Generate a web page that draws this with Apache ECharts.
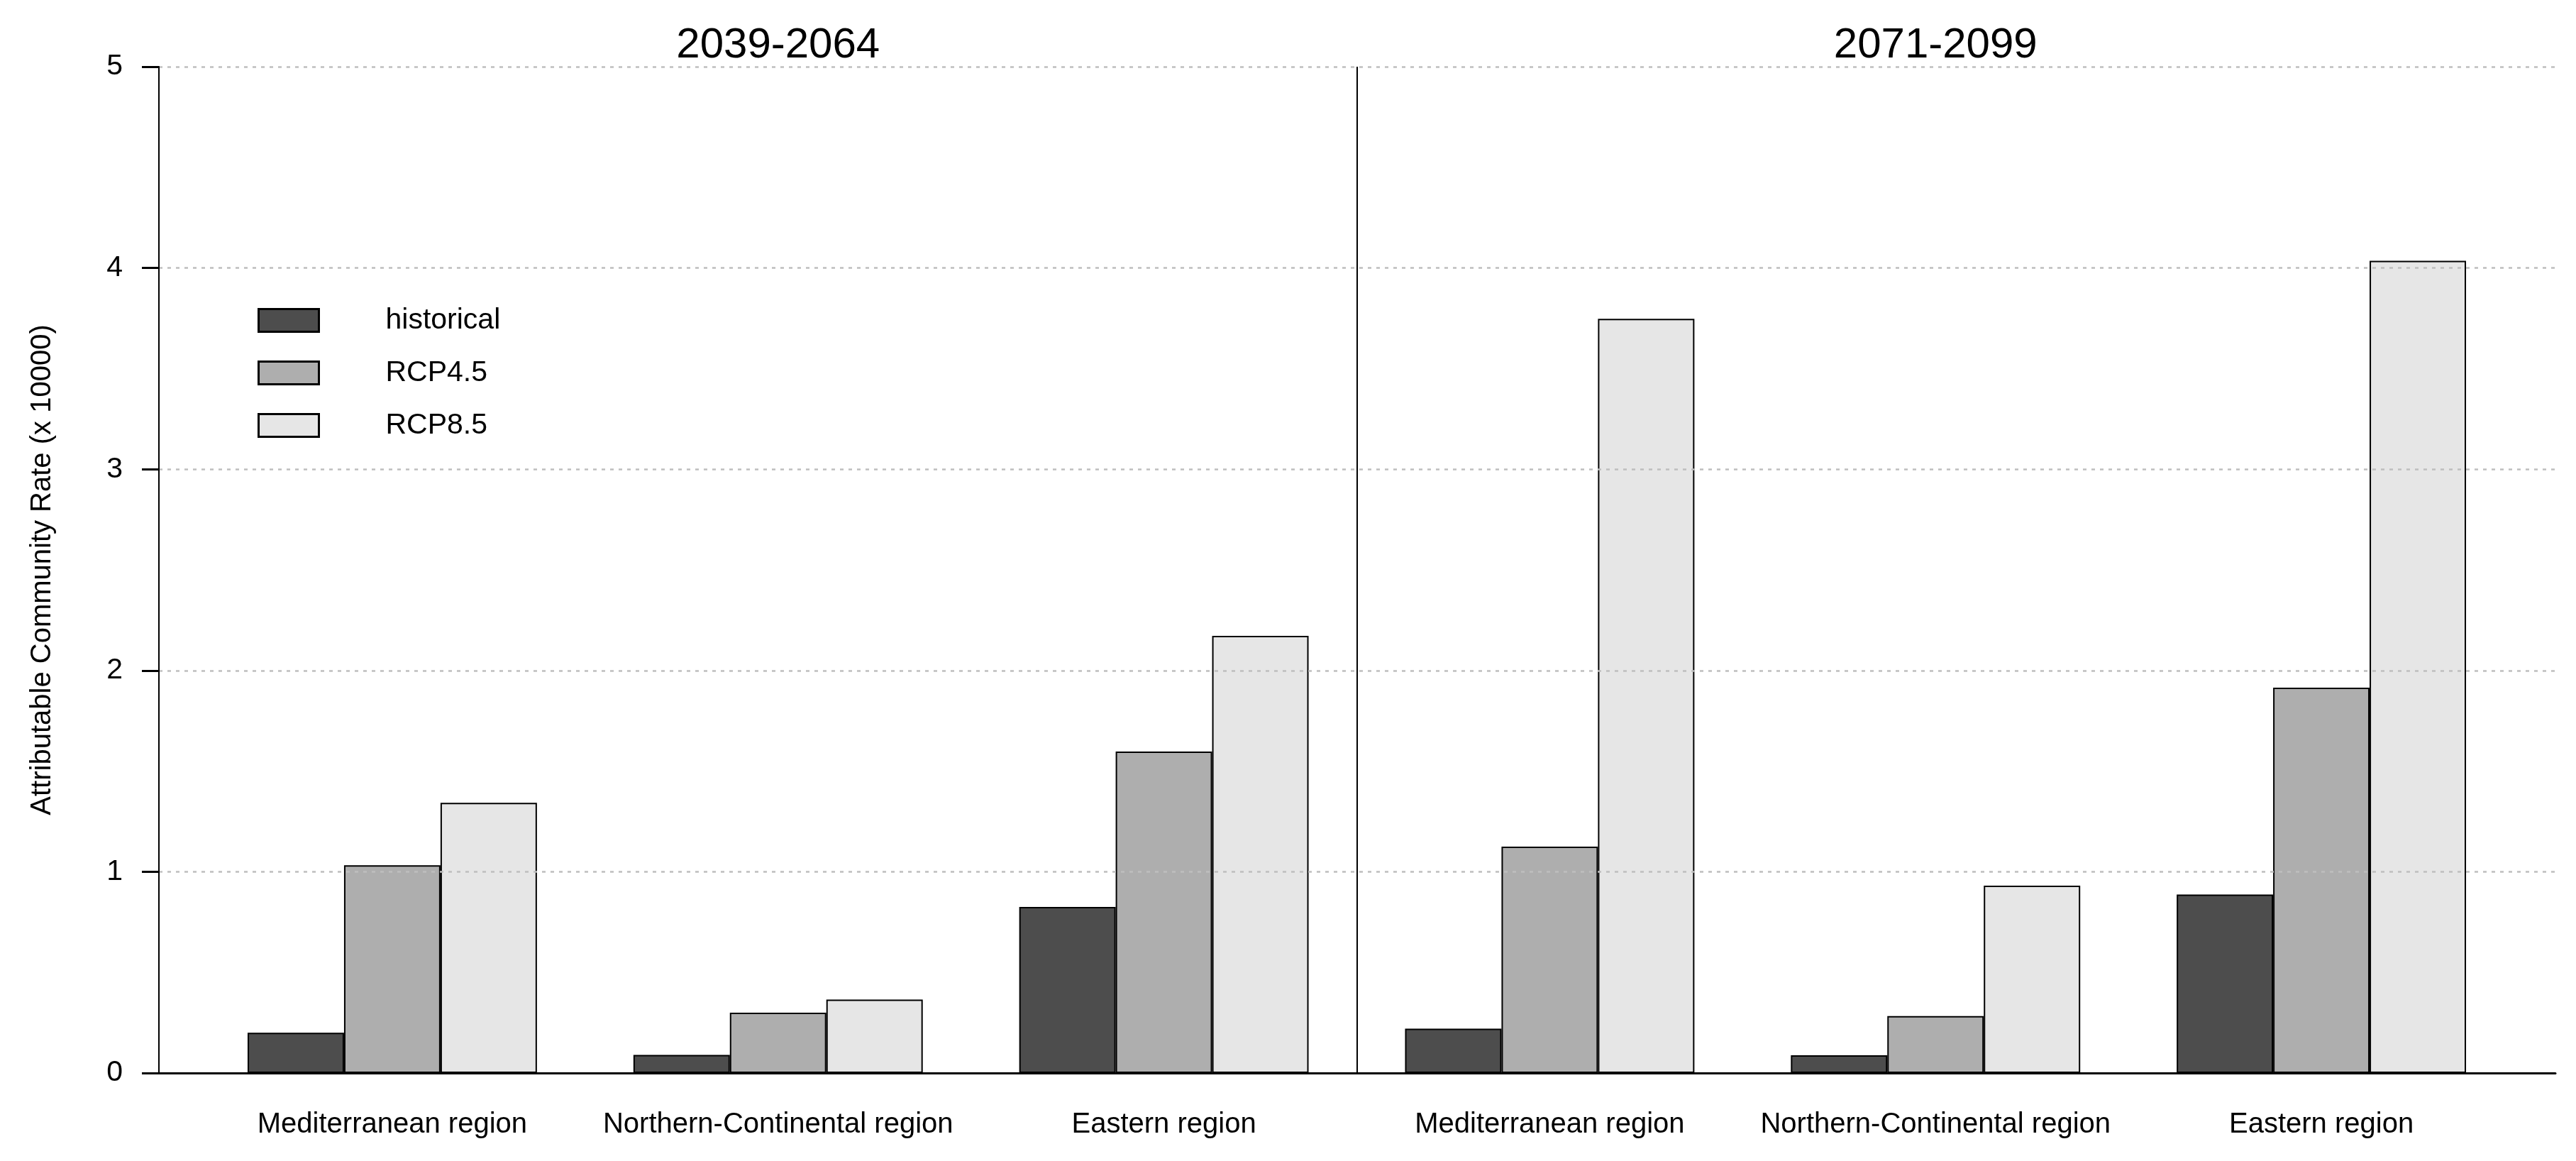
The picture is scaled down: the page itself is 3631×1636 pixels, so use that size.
<!DOCTYPE html>
<html>
<head>
<meta charset="utf-8">
<script src="https://cdn.jsdelivr.net/npm/echarts@6/dist/echarts.min.js"></script>
<style>
html,body{margin:0;padding:0;background:#ffffff;}
#chart{width:3631px;height:1636px;}
</style>
</head>
<body>
<div id="chart"></div>
<script>
// ---- data ----
const regions = ['Mediterranean region', 'Northern-Continental region', 'Eastern region'];
const periods = ['2039-2064', '2071-2099'];
const seriesNames = ['historical', 'RCP4.5', 'RCP8.5'];
const historical = [0.20, 0.09, 0.825, 0.22, 0.088, 0.887];
const rcp45 = [1.032, 0.30, 1.597, 1.125, 0.283, 1.915];
const rcp85 = [1.343, 0.365, 2.172, 3.747, 0.931, 4.036];
const yTicks = [0, 1, 2, 3, 4, 5];

// ---- build ----
const categories = regions.concat(regions);
const colors = ['#4D4D4D', '#AEAEAE', '#E6E6E6'];
const values = [historical, rcp45, rcp85];
const FONT = 'Liberation Sans';

const chart = echarts.init(document.getElementById('chart'));

const barSeries = seriesNames.map(function (name, k) {
  return {
    name: name,
    type: 'bar',
    xAxisIndex: 0,
    yAxisIndex: 0,
    data: values[k],
    barWidth: '25%',
    barGap: '0%',
    z: 2,
    itemStyle: { color: colors[k], borderColor: '#000000', borderWidth: 2 }
  };
});

const option = {
  animation: false,
  backgroundColor: '#ffffff',
  textStyle: { fontFamily: FONT },
  grid: [
    { left: 281, right: 87, top: 94, bottom: 124, outerBoundsMode: 'none' },
    { left: 224, right: 29, top: 94, bottom: 124, outerBoundsMode: 'none' }
  ],
  legend: {
    orient: 'vertical',
    left: 358,
    top: 426,
    itemWidth: 85,
    itemHeight: 32,
    itemGap: 33,
    icon: 'rect',
    itemStyle: { borderColor: '#000000', borderWidth: 3 },
    textStyle: { fontSize: 41, color: '#000000', fontFamily: FONT, padding: [0, 0, 0, 89] },
    data: seriesNames
  },
  xAxis: [
    {
      gridIndex: 0, type: 'category', data: categories, position: 'bottom',
      axisLine: { show: false }, axisTick: { show: false }, splitLine: { show: false },
      axisLabel: { interval: 0, fontSize: 40, lineHeight: 40, color: '#000000', margin: 53, fontFamily: FONT }
    },
    {
      gridIndex: 0, type: 'category', data: categories, position: 'top',
      axisLine: { show: false }, axisTick: { show: false }, splitLine: { show: false },
      axisLabel: {
        interval: 0, fontSize: 60, lineHeight: 60, color: '#000000', margin: 0, fontFamily: FONT,
        formatter: function (v, i) {
          const per = regions.length;
          if (i % per === Math.floor(per / 2)) return periods[Math.floor(i / per)];
          return '';
        }
      }
    },
    {
      gridIndex: 1, type: 'value', min: -0.105, max: 6.107, z: 11,
      axisLine: { show: true, onZero: false, lineStyle: { color: '#000000', width: 3 } },
      axisTick: { show: false }, axisLabel: { show: false }, splitLine: { show: false }
    }
  ],
  yAxis: [
    { gridIndex: 0, type: 'value', min: yTicks[0], max: yTicks[yTicks.length - 1], show: false },
    {
      gridIndex: 1, type: 'value', min: yTicks[0], max: yTicks[yTicks.length - 1], interval: 1, z: 10,
      name: 'Attributable Community Rate (x 10000)',
      nameLocation: 'middle', nameGap: 144,
      nameTextStyle: { fontSize: 40, color: '#000000', fontFamily: FONT },
      axisLine: { show: true, onZero: false, lineStyle: { color: '#000000', width: 2 } },
      axisTick: { show: true, length: 24, lineStyle: { color: '#000000', width: 3 } },
      axisLabel: { fontSize: 41, color: '#000000', margin: 51, fontFamily: FONT },
      splitLine: { show: true, showMinLine: false, lineStyle: { color: '#BEBEBE', width: 2.5, type: [5, 7] } }
    }
  ],
  series: barSeries.concat([
    {
      type: 'scatter', xAxisIndex: 2, yAxisIndex: 1, symbolSize: 0, silent: true,
      data: [[regions.length, 0]],
      markLine: {
        symbol: 'none', silent: true, animation: false,
        label: { show: false },
        lineStyle: { color: '#000000', width: 2, type: 'solid' },
        data: [{ xAxis: regions.length }]
      }
    }
  ])
};

chart.setOption(option);
</script>
</body>
</html>
